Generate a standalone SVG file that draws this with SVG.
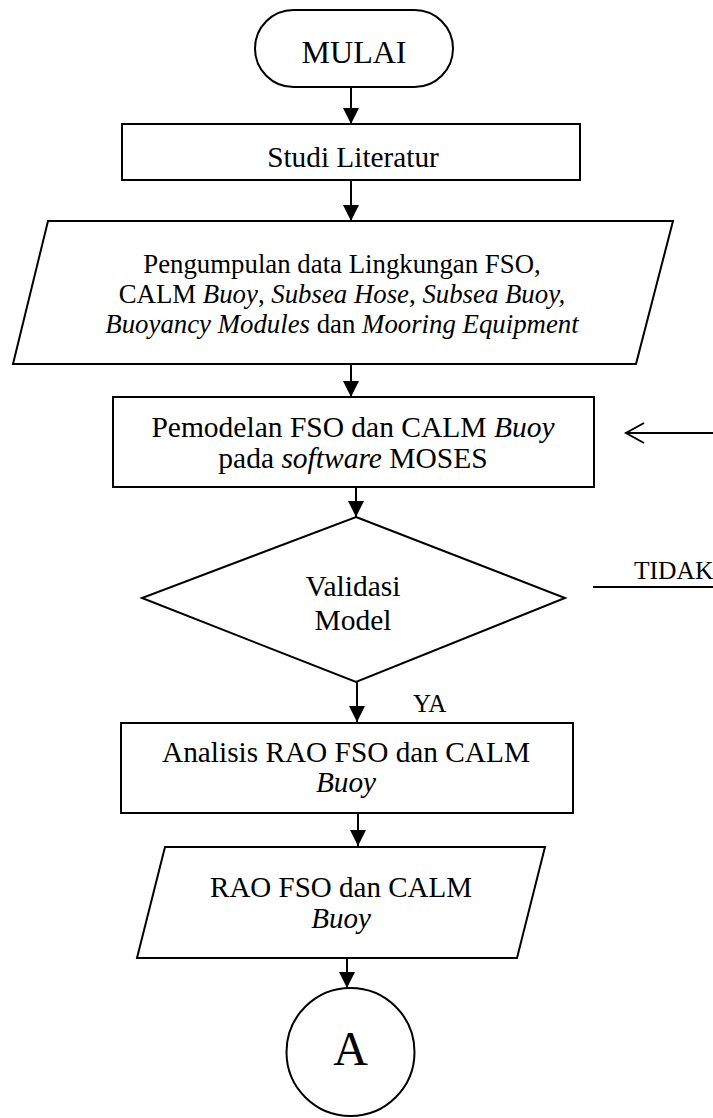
<svg xmlns="http://www.w3.org/2000/svg" width="713" height="1118" viewBox="0 0 713 1118">
<style>
.s{fill:#fff;stroke:#000;stroke-width:2}
.t{font-family:"Liberation Serif","Times New Roman",serif;font-size:29.5px;fill:#000;text-anchor:middle}
.i{font-style:italic}
.c{stroke:#000;stroke-width:2;fill:none}
</style>
<defs>
<marker id="ah" markerUnits="userSpaceOnUse" markerWidth="17" markerHeight="17" refX="16" refY="8" orient="auto">
<path d="M0,0 L16,8 L0,16 z" fill="#000"/>
</marker>
<marker id="oh" markerUnits="userSpaceOnUse" markerWidth="22" markerHeight="24" refX="19" refY="11" orient="auto">
<path d="M1,1 L19,11 L1,21" fill="none" stroke="#000" stroke-width="2"/>
</marker>
</defs>
<rect width="713" height="1118" fill="#fff"/>
<g id="connectors">
<line class="c" x1="351" y1="87" x2="351" y2="124" marker-end="url(#ah)"/>
<line class="c" x1="351" y1="180" x2="351" y2="221" marker-end="url(#ah)"/>
<line class="c" x1="351" y1="364" x2="351" y2="397" marker-end="url(#ah)"/>
<line class="c" x1="356" y1="485" x2="356" y2="517" marker-end="url(#ah)"/>
<line class="c" x1="357" y1="682" x2="357" y2="722" marker-end="url(#ah)"/>
<line class="c" x1="358" y1="813" x2="358" y2="846" marker-end="url(#ah)"/>
<line class="c" x1="347" y1="950" x2="347" y2="988" marker-end="url(#ah)"/>
<line class="c" x1="713" y1="433" x2="626" y2="433" marker-end="url(#oh)"/>
<line class="c" x1="593" y1="587" x2="713" y2="587"/>
<text class="t" x="634" y="579" style="text-anchor:start;font-size:25.5px">TIDAK</text>
<text class="t" x="413" y="712" style="text-anchor:start;font-size:25px">YA</text>
</g>
<g id="mulai">
<rect class="s" x="255" y="10" width="198" height="77" rx="38.5" ry="38.5"/>
<text class="t" x="354" y="63" style="font-size:32px">MULAI</text>
</g>
<g id="studi">
<rect class="s" x="122" y="124" width="458" height="56"/>
<text class="t" x="353" y="167" style="font-size:29.3px">Studi Literatur</text>
</g>
<g id="pengumpulan">
<polygon class="s" points="48,221 673,221 636,364 13,364"/>
<text class="t" x="342" y="273" style="font-size:26.8px">Pengumpulan data Lingkungan FSO,</text>
<text class="t" x="342" y="303" style="font-size:26.8px">CALM <tspan class="i">Buoy</tspan>, <tspan class="i">Subsea Hose</tspan>, <tspan class="i">Subsea Buoy,</tspan></text>
<text class="t" x="342" y="333" style="font-size:26.8px"><tspan class="i">Buoyancy Modules</tspan> dan <tspan class="i">Mooring Equipment</tspan></text>
</g>
<g id="pemodelan">
<rect class="s" x="113" y="397" width="481" height="90"/>
<text class="t" x="353" y="437">Pemodelan FSO dan CALM <tspan class="i">Buoy</tspan></text>
<text class="t" x="353" y="468">pada <tspan class="i">software</tspan> MOSES</text>
</g>
<g id="validasi">
<polygon class="s" points="356,517 565,598 356,682 142,598"/>
<text class="t" x="353" y="596">Validasi</text>
<text class="t" x="353" y="630">Model</text>
</g>
<g id="analisis">
<rect class="s" x="121" y="723" width="452" height="90"/>
<text class="t" x="346" y="762" style="font-size:29.3px">Analisis RAO FSO dan CALM</text>
<text class="t i" x="346" y="792" style="font-size:29.3px">Buoy</text>
</g>
<g id="rao">
<polygon class="s" points="165,847 545,847 517,958 137,958"/>
<text class="t" x="341" y="897" style="font-size:29px">RAO FSO dan CALM</text>
<text class="t i" x="341" y="928" style="font-size:29px">Buoy</text>
</g>
<g id="a">
<circle class="s" cx="350.5" cy="1052" r="64"/>
<text class="t" x="350.5" y="1065" style="font-size:48px">A</text>
</g>
</svg>
